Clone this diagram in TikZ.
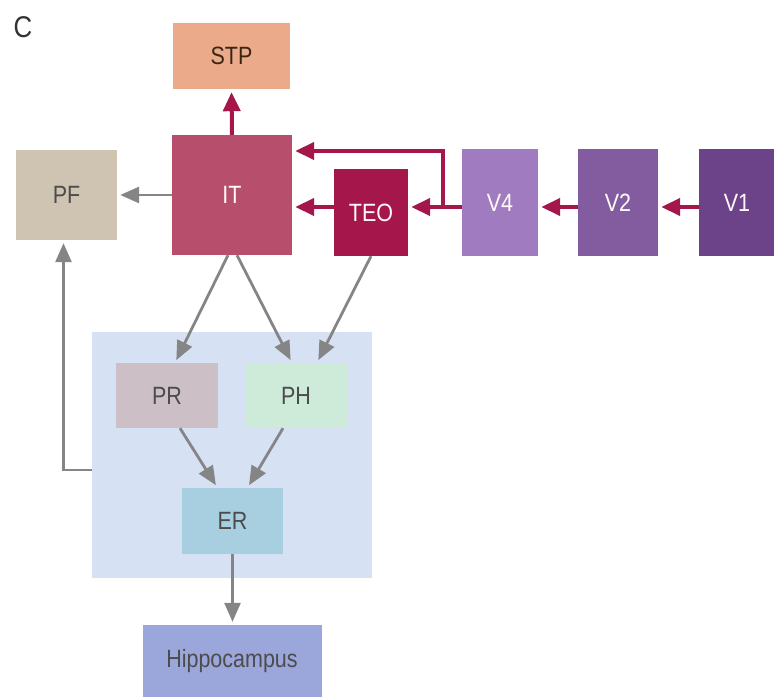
\documentclass[tikz,border=0pt]{standalone}
\usepackage{fontspec}
\newfontfamily\areafont[FakeStretch=0.86]{Liberation Sans}
\usetikzlibrary{arrows.meta,positioning}
\definecolor{arstp}{RGB}{235,170,138}
\definecolor{arpf}{RGB}{207,196,178}
\definecolor{arit}{RGB}{183,78,108}
\definecolor{arteo}{RGB}{165,22,75}
\definecolor{arvfour}{RGB}{161,123,191}
\definecolor{arvtwo}{RGB}{130,92,158}
\definecolor{arvone}{RGB}{108,66,137}
\definecolor{armtl}{RGB}{214,225,243}
\definecolor{arpr}{RGB}{205,191,198}
\definecolor{arph}{RGB}{205,235,216}
\definecolor{arer}{RGB}{168,207,224}
\definecolor{arhip}{RGB}{155,167,219}
\definecolor{lnred}{RGB}{165,22,75}
\definecolor{lngray}{RGB}{133,133,133}

\begin{document}
\begin{tikzpicture}[x=1pt,y=-1pt,
  area/.style={inner sep=0pt,font=\areafont\fontsize{25}{28}\selectfont,text=black!70},
  darkarea/.style={area,text=white!92!pink},
  redline/.style={draw=lnred,line width=4pt,-{Triangle[length=19pt,width=17pt]},shorten >=3pt},
  grayline/.style={draw=lngray,line width=2.8pt,-{Triangle[length=19pt,width=16pt]},shorten >=3pt}]
  \useasboundingbox (0,0) rectangle (774,700);
  \node[font=\areafont\fontsize{30}{32}\selectfont,text=black!80] (lbl) at (23,27) {C};
  \node[area,fill=armtl,minimum width=280pt,minimum height=246pt] (mtl) at (232,455) {};
  \node[area,fill=arstp,text=black!70!brown,minimum width=117pt,minimum height=66pt] (stp) at (231.5,56) {STP};
  \node[area,fill=arpf,minimum width=101pt,minimum height=90pt] (pf) at (66.5,195) {PF};
  \node[darkarea,fill=arit,minimum width=120pt,minimum height=120pt] (it) at (232,195) {IT};
  \node[darkarea,fill=arteo,minimum width=74pt,minimum height=87pt] (teo) at (371,212.5) {TEO};
  \node[darkarea,fill=arvfour,minimum width=76pt,minimum height=107pt] (vfour) at (500,202.5) {V4};
  \node[darkarea,fill=arvtwo,minimum width=80pt,minimum height=107pt] (vtwo) at (618,202.5) {V2};
  \node[darkarea,fill=arvone,minimum width=76pt,minimum height=107pt] (vone) at (737,202.5) {V1};
  \node[area,fill=arpr,minimum width=102pt,minimum height=65pt] (pr) at (167,395.5) {PR};
  \node[area,fill=arph,minimum width=102pt,minimum height=65pt] (ph) at (296,395.5) {PH};
  \node[area,fill=arer,minimum width=101pt,minimum height=66pt] (er) at (232.5,521) {ER};
  \node[area,fill=arhip,minimum width=179pt,minimum height=72pt] (hip) at (232,661) {Hippocampus};
  \coordinate (row) at (0,207);
  \coordinate (toprow) at (0,151);
  \coordinate (branch) at (443,207);
  \coordinate (back) at (0,470);
  \draw[redline] (vone.west |- row) -- (vtwo.east |- row);
  \draw[redline] (vtwo.west |- row) -- (vfour.east |- row);
  \draw[redline] (vfour.west |- row) -- (teo.east |- row);
  \draw[redline] (teo.west |- row) -- (it.east |- row);
  \draw[redline] (branch) |- (it.east |- toprow);
  \draw[redline] (it.north) -- (stp.south);
  \draw[grayline] (it.west) -- (pf.east);
  \draw[grayline] ([xshift=-4pt]it.south) -- ([xshift=8pt]pr.north);
  \draw[grayline] ([xshift=5pt]it.south) -- ([xshift=-4pt]ph.north);
  \draw[grayline] (teo.south) -- ([xshift=21pt]ph.north);
  \draw[grayline] ([xshift=13pt]pr.south) -- ([xshift=-15pt]er.north);
  \draw[grayline] ([xshift=-13pt]ph.south) -- ([xshift=15pt]er.north);
  \draw[grayline] (er.south) -- (er.south |- hip.north);
  \draw[grayline] (mtl.west |- back) -| ([xshift=-3pt]pf.south);
\end{tikzpicture}
\end{document}
